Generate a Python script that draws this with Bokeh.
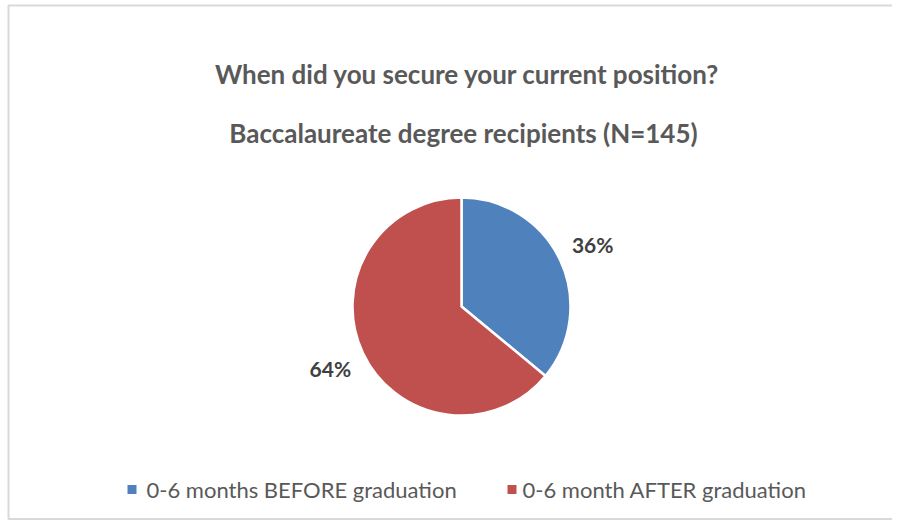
import math
from bokeh.plotting import figure
from bokeh.models import Range1d, ColumnDataSource
from bokeh.core.properties import value
from bokeh.embed import file_html
from bokeh.resources import INLINE

# ---- data ----
title_lines = ["When did you secure your current position?",
               "Baccalaureate degree recipients (N=145)"]
categories = ["0-6 months BEFORE graduation", "0-6 month AFTER graduation"]
shares = [36, 64]
colors = ["#4F81BD", "#C0504D"]

W, H = 892, 520
p = figure(width=W, height=H, output_backend="svg", toolbar_location=None,
           x_range=Range1d(0, W), y_range=Range1d(0, H),
           min_border=0, background_fill_color="white", border_fill_color="white")
p.axis.visible = False
p.grid.visible = False
p.outline_line_color = None

# picture y -> data y
def Y(py):
    return H - py

# chart border
p.quad(left=8, right=W + 20, top=Y(5), bottom=Y(518.5), fill_color=None,
       line_color="#D9D9D9", line_width=2)

cx, cy, r = 461, Y(306), 109
total = sum(shares)
starts, ends, mids = [], [], []
a = math.pi / 2
for s in shares:
    sweep = 2 * math.pi * s / total
    starts.append(a)
    ends.append(a - sweep)
    mids.append(a - sweep / 2)
    a -= sweep

src = ColumnDataSource(dict(start=starts, end=ends, color=colors))
p.wedge(x=cx, y=cy, radius=r, start_angle="start", end_angle="end",
        direction="clock", fill_color="color", line_color="white",
        line_width=2.5, source=src)

# data labels
lr = 145
lab = ColumnDataSource(dict(
    x=[cx + lr * math.cos(m) for m in mids],
    y=[cy + lr * math.sin(m) for m in mids],
    t=[f"{s}%" for s in shares]))
p.text(x="x", y="y", text="t", source=lab, text_font=value("Lato"),
       text_font_style="bold", text_font_size="21px", text_color="#404040",
       text_align="center", text_baseline="middle")

# titles
p.text(x=[467, 463], y=[Y(73), Y(132)], text=title_lines,
       text_font=value("Lato"), text_font_style="bold", text_font_size="26px",
       text_color="#595959", text_align="center", text_baseline="middle")

# legend
leg_y = Y(489)
sq_x = [131.5, 511.5]
txt_x = [146, 522]
p.rect(x=sq_x, y=[leg_y] * 2, width=9, height=9, fill_color=colors, line_color=None)
p.text(x=txt_x, y=[leg_y] * 2, text=categories,
       text_font=value("Lato"), text_font_size="22px", text_color="#595959",
       text_align="left", text_baseline="middle")

open("out.html", "w").write(file_html(p, INLINE))
